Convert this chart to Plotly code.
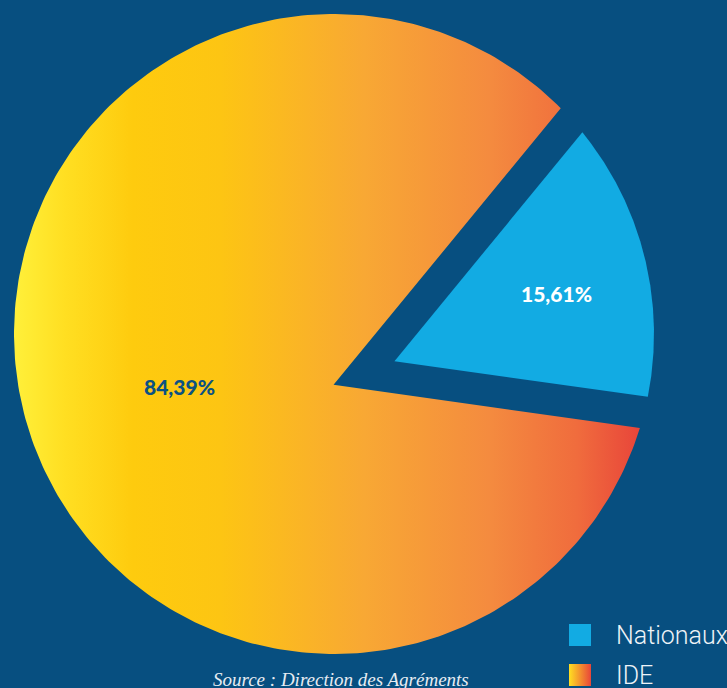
import numpy as np
import plotly.graph_objects as go

# ---------------- data ----------------
categories = ["Nationaux", "IDE"]
shares = [15.61, 84.39]
label_texts = [f"{v:.2f}%".replace(".", ",") for v in shares]
nat_color = "#12ABE3"
ide_colorscale = [
    [0.00, "#FFF03A"], [0.08, "#FFDF22"], [0.19, "#FECB0E"], [0.33, "#FDC513"],
    [0.56, "#F8A834"], [0.76, "#F48B3F"], [0.90, "#F06C3D"], [1.00, "#E8453A"],
]
source_text = "Source : Direction des Agréments"

# ---------------- geometry / style ----------------
W, H = 727, 688
BG = "#074F80"
CX, CY, R = 334.0, 354.0, 320.0          # circle (y axis points up)
PIVOT = np.array([364.0, 315.0])         # meeting point of the slice borders
GAP = 32.0                               # width of the cut between slices
MID_ANGLE = 13.9                         # direction of the Nationaux slice (deg)
LABEL_ORIGIN = np.array([CX + 34.0, CY - 6.0])
LABEL_DIST = 194.0

C = np.array([CX, CY])
span = shares[0] / sum(shares) * 360.0
a_lo = np.radians(MID_ANGLE - span / 2)
a_hi = np.radians(MID_ANGLE + span / 2)


def unit(a):
    return np.array([np.cos(a), np.sin(a)])


def normalize(v):
    return v / np.linalg.norm(v)


def lnorm(d):
    return np.array([-d[1], d[0]])


def circle_hit(p0, d):
    f = p0 - C
    b = f @ d
    c = f @ f - R * R
    t = -b + np.sqrt(b * b - c)
    return p0 + t * d


def ang(p):
    return np.arctan2(p[1] - CY, p[0] - CX)


d_lo = normalize(C + R * unit(a_lo) - PIVOT)
d_hi = normalize(C + R * unit(a_hi) - PIVOT)
h = GAP / 2

nat_lo = circle_hit(PIVOT + h * lnorm(d_lo), d_lo)
nat_hi = circle_hit(PIVOT - h * lnorm(d_hi), d_hi)
ide_lo = circle_hit(PIVOT - h * lnorm(d_lo), d_lo)
ide_hi = circle_hit(PIVOT + h * lnorm(d_hi), d_hi)

phi = np.arccos(np.clip(d_lo @ d_hi, -1, 1))
bis = normalize(d_lo + d_hi)
k = h / np.sin(phi / 2)
nat_apex = PIVOT + k * bis
ide_apex = PIVOT - k * bis


def wedge(apex, p_start, p_end, n=300):
    t0, t1 = ang(p_start), ang(p_end)
    while t1 <= t0:
        t1 += 2 * np.pi
    t = np.linspace(t0, t1, n)
    xs = np.concatenate([[apex[0]], CX + R * np.cos(t), [apex[0]]])
    ys = np.concatenate([[apex[1]], CY + R * np.sin(t), [apex[1]]])
    return xs, ys


nat_x, nat_y = wedge(nat_apex, nat_lo, nat_hi)
ide_x, ide_y = wedge(ide_apex, ide_hi, ide_lo)

fig = go.Figure()
fig.add_trace(go.Scatter(
    x=ide_x, y=ide_y, mode="lines", fill="toself", name=categories[1],
    line=dict(width=0, color="#FDC513"),
    fillgradient=dict(type="horizontal", colorscale=ide_colorscale),
    hoverinfo="name", showlegend=False,
))
fig.add_trace(go.Scatter(
    x=nat_x, y=nat_y, mode="lines", fill="toself", name=categories[0],
    line=dict(width=0, color=nat_color), fillcolor=nat_color,
    hoverinfo="name", showlegend=False,
))

# slice labels
mids = [np.radians(MID_ANGLE), np.radians(MID_ANGLE + 180.0)]
label_colors = ["#FFFFFF", "#0B5283"]
for txt, m, col in zip(label_texts, mids, label_colors):
    p = LABEL_ORIGIN + LABEL_DIST * unit(m)
    fig.add_annotation(x=p[0], y=p[1], text=txt, showarrow=False,
                       font=dict(family="Lato", size=21, color=col, weight=900))

# legend (manual)
LEG_X, LEG_Y0, LEG_DY = 580.0, 53.0, 40.0
for i, cat in enumerate(categories):
    y = LEG_Y0 - i * LEG_DY
    marker = dict(symbol="square", size=22, line=dict(width=0))
    if i == 0:
        marker["color"] = nat_color
    else:
        marker["color"] = ide_colorscale[1][1]
        marker["gradient"] = dict(type="horizontal", color=ide_colorscale[-1][1])
    fig.add_trace(go.Scatter(x=[LEG_X], y=[y], mode="markers", marker=marker,
                             hoverinfo="skip", showlegend=False))
    fig.add_annotation(x=LEG_X + 34, y=y, text=cat, showarrow=False,
                       xanchor="left", yanchor="middle",
                       font=dict(family="Roboto", size=25, color="#EEF3F7", weight=300))

fig.add_annotation(x=341, y=9, text=source_text, showarrow=False,
                   xanchor="center", yanchor="middle",
                   font=dict(family="Liberation Serif", size=19, color="#E6ECF2",
                             style="italic"))

fig.update_layout(
    width=W, height=H, margin=dict(l=0, r=0, t=0, b=0),
    paper_bgcolor=BG, plot_bgcolor=BG,
    xaxis=dict(range=[0, W], visible=False, fixedrange=True),
    yaxis=dict(range=[0, H], visible=False, fixedrange=True),
    showlegend=False,
)

fig.write_html(
    "out.html",
    config={"displayModeBar": False},
    post_script="document.body.style.margin='0';document.body.style.overflow='hidden';",
)
